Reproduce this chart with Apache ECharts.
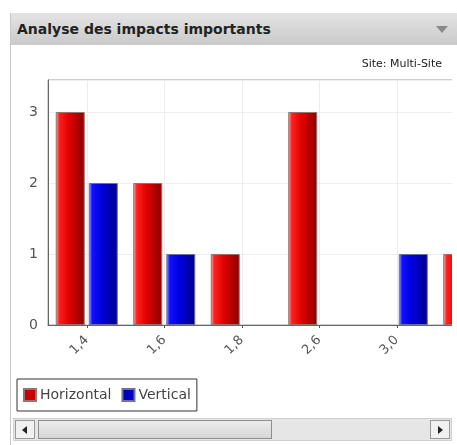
<!DOCTYPE html>
<html>
<head>
<meta charset="utf-8">
<script src="https://cdn.jsdelivr.net/npm/echarts@6/dist/echarts.min.js"></script>
<style>
  html, body { margin: 0; padding: 0; background: #fff; width: 457px; height: 445px; overflow: hidden; }
  .panel { position: absolute; left: 10px; top: 13px; width: 447px; height: 432px; border-left: 1px solid #c8c8c8; }
  .header {
    position: absolute; left: 0; top: 0; width: 447px; height: 32px;
    background: linear-gradient(#e4e4e4, #c9c9c9);
    font: bold 14px "DejaVu Sans", sans-serif; color: #222;
    line-height: 32px; text-indent: 6px;
  }
  .tri { position: absolute; right: 10px; top: 13px; width: 0; height: 0;
    border-left: 6px solid transparent; border-right: 6px solid transparent; border-top: 7px solid #8a8a8a; }
  .view { position: absolute; left: 11px; top: 46px; width: 441px; height: 370px; overflow: hidden; }
  #chart { position: absolute; left: 0; top: 0; width: 520px; height: 370px; }
  .scroll { position: absolute; left: 13px; top: 418px; width: 439px; height: 23px; background: #e6e6e6; border: 1px solid #d0d0d0; box-sizing: border-box; }
  .btn { position: absolute; top: 1px; width: 20px; height: 19px; background: #f1f1f1; border: 1px solid #999; box-sizing: border-box; }
  .thumb { position: absolute; left: 24px; top: 1px; width: 234px; height: 19px; background: linear-gradient(#ececec, #d6d6d6); border: 1px solid #8e8e8e; box-sizing: border-box; }
  .al { position: absolute; top: 5px; width: 0; height: 0; border-top: 4px solid transparent; border-bottom: 4px solid transparent; }
</style>
</head>
<body>
<div class="panel">
  <div class="header">Analyse des impacts importants<div class="tri"></div></div>
</div>
<div class="view"><div id="chart"></div></div>
<div class="scroll">
  <div class="btn" style="left:1px"><div class="al" style="left:6px;border-right:5px solid #222"></div></div>
  <div class="thumb"></div>
  <div class="btn" style="right:1px"><div class="al" style="left:7px;border-left:5px solid #222"></div></div>
</div>
<script>
// categories (the last one is cut off by the scroll view)
const categories = ['1,4', '1,6', '1,8', '2,6', '3,0', '3,2']
const horizontal = [3, 2, 1, 3, null, 1]
const vertical = [2, 1, null, null, 1, null]
const yTicks = [0, 1, 2, 3]

const chart = echarts.init(document.getElementById('chart'))

const redFill = new echarts.graphic.LinearGradient(0, 0, 1, 0, [
  { offset: 0, color: '#ffb0b0' },
  { offset: 0.12, color: '#ff2020' },
  { offset: 0.45, color: '#e00000' },
  { offset: 1, color: '#8a0000' }
])
const blueFill = new echarts.graphic.LinearGradient(0, 0, 1, 0, [
  { offset: 0, color: '#a8a8ff' },
  { offset: 0.12, color: '#1010ff' },
  { offset: 0.45, color: '#0000dd' },
  { offset: 1, color: '#00008a' }
])

chart.setOption({
  animation: false,
  textStyle: { fontFamily: 'DejaVu Sans, sans-serif' },
  title: {
    text: 'Site: Multi-Site',
    right: 84,
    top: 8,
    textStyle: { fontSize: 11, fontWeight: 'normal', color: '#222' }
  },
  legend: {
    left: 6,
    top: 333,
    data: [
      { name: 'Horizontal', itemStyle: { color: '#c80000' } },
      { name: 'Vertical', itemStyle: { color: '#0000c0' } }
    ],
    icon: 'rect',
    itemWidth: 12,
    itemHeight: 12,
    itemGap: 10,
    padding: [9, 6, 9, 6],
    borderColor: '#333',
    borderWidth: 1,
    textStyle: { fontSize: 14, color: '#444', padding: [0, 0, 0, -1] }
  },
  grid: {
    left: 37,
    top: 34,
    bottom: 91,
    right: 18,
    show: true,
    borderColor: '#a0a0a0',
    borderWidth: 1
  },
  xAxis: {
    type: 'category',
    data: categories,
    axisLine: { lineStyle: { color: '#666', width: 1 } },
    axisTick: { show: true, alignWithLabel: true, length: 3, lineStyle: { color: '#555' } },
    axisLabel: { rotate: 45, color: '#555', fontSize: 13, margin: 13, interval: 0 },
    splitLine: { show: false }
  },
  yAxis: {
    type: 'value',
    min: 0,
    max: 3.45,
    interval: 1,
    axisLine: { show: true, lineStyle: { color: '#666' } },
    axisTick: { show: false },
    axisLabel: {
      color: '#555', fontSize: 14, margin: 10, showMaxLabel: false,
      formatter: v => yTicks.indexOf(v) >= 0 ? String(v) : ''
    },
    splitLine: { lineStyle: { color: '#eeeeee' } }
  },
  series: [
    {
      // faint vertical guides through each category centre
      type: 'line',
      data: [],
      z: 1,
      silent: true,
      markLine: {
        silent: true,
        symbol: 'none',
        label: { show: false },
        lineStyle: { color: '#ececec', type: 'solid', width: 1 },
        data: categories.map(c => ({ xAxis: c }))
      }
    },
    {
      name: 'Horizontal',
      type: 'bar',
      z: 3,
      data: horizontal,
      barWidth: 29,
      barGap: '14%',
      itemStyle: { color: redFill, borderColor: '#9a7070', borderWidth: 1 }
    },
    {
      name: 'Vertical',
      type: 'bar',
      z: 3,
      data: vertical,
      barWidth: 29,
      barGap: '14%',
      itemStyle: { color: blueFill, borderColor: '#7070a0', borderWidth: 1 }
    }
  ]
})
</script>
</body>
</html>
